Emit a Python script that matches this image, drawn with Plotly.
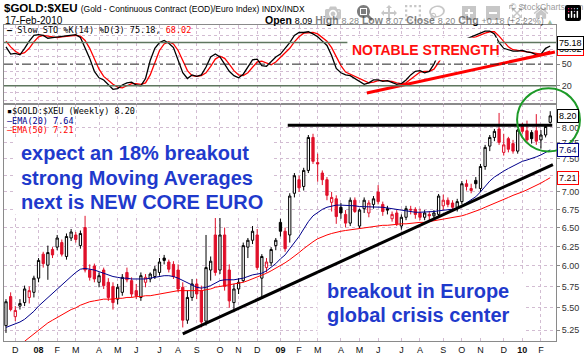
import math
import pandas as pd
import plotly.graph_objects as go

# ---------------- data (weekly, from 2007-11-19) ----------------
opens = [5.30,5.63,5.40,5.52,5.56,5.62,5.68,5.85,6.15,6.01,6.21,6.24,6.30,6.12,6.36,6.40,6.26,6.50,5.95,6.00,
         5.80,5.95,5.80,5.75,5.60,5.68,5.92,5.82,5.70,5.62,5.80,5.84,5.87,5.92,6.10,6.05,6.02,5.95,5.74,5.36,
         5.62,5.78,5.70,5.35,5.95,6.40,5.95,6.40,5.95,5.56,5.72,5.82,6.24,6.33,6.40,5.85,5.98,6.04,6.26,6.57,
         6.45,6.40,6.98,7.18,7.08,7.32,7.84,7.44,7.28,7.18,6.85,6.90,6.78,6.68,6.56,6.88,6.52,6.76,6.70,6.82,
         7.00,6.82,6.76,6.62,6.70,6.52,6.64,6.74,6.75,6.70,6.64,6.68,6.66,6.68,6.80,6.88,6.84,6.78,6.86,7.12,
         7.02,7.17,7.05,7.38,7.70,7.84,7.98,7.60,7.82,7.74,7.62,8.02,7.95,7.92,7.95,7.80,7.88,8.09]
highs = [5.60,5.68,5.52,5.60,5.76,5.75,5.88,6.10,6.18,6.26,6.24,6.40,6.34,6.42,6.48,6.44,6.46,6.66,6.02,6.03,
         5.92,5.98,5.85,5.80,5.78,5.90,5.98,5.86,5.78,5.92,5.90,5.92,6.00,6.10,6.14,6.08,6.06,6.02,5.80,5.70,
         5.84,5.84,5.76,6.40,6.12,6.63,6.63,6.50,6.02,5.78,5.85,6.30,6.36,6.52,6.48,6.15,6.10,6.24,6.36,6.62,
         6.50,6.98,7.28,7.24,7.36,7.88,7.90,7.58,7.32,7.22,7.00,6.95,6.84,6.74,6.92,6.92,6.76,6.92,6.88,6.94,
         7.10,6.86,6.80,6.72,6.74,6.68,6.80,6.80,6.78,6.76,6.74,6.72,6.74,6.97,6.96,6.92,6.88,6.90,7.16,7.18,
         7.12,7.22,7.42,7.72,7.88,7.98,8.25,7.90,7.85,7.80,7.98,8.08,8.12,7.96,8.23,7.96,8.05,8.28]
lows = [5.22,5.46,5.35,5.48,5.52,5.55,5.62,5.80,5.98,5.83,6.10,6.20,6.12,6.08,6.32,6.30,6.22,5.92,5.82,5.80,
        5.74,5.72,5.58,5.48,5.54,5.64,5.80,5.62,5.60,5.58,5.74,5.80,5.84,5.88,6.02,5.92,5.84,5.68,5.28,5.32,
        5.58,5.60,5.28,5.30,5.82,5.88,5.90,5.70,5.50,5.45,5.66,5.80,6.10,6.28,5.95,5.62,5.92,6.00,6.20,6.38,
        6.18,6.30,6.92,7.00,7.02,7.28,7.42,7.15,7.10,6.88,6.72,6.55,6.62,6.50,6.52,6.70,6.48,6.70,6.64,6.76,
        6.82,6.66,6.68,6.58,6.52,6.47,6.60,6.68,6.62,6.60,6.60,6.60,6.62,6.64,6.74,6.78,6.72,6.72,6.82,7.02,
        6.98,7.05,7.00,7.33,7.62,7.78,7.72,7.55,7.60,7.58,7.58,7.90,7.76,7.74,7.72,7.66,7.84,8.07]
closes = [5.57,5.48,5.47,5.55,5.72,5.70,5.85,6.07,6.03,6.17,6.14,6.36,6.15,6.38,6.44,6.34,6.42,5.95,5.86,5.84,
          5.88,5.76,5.62,5.56,5.74,5.86,5.83,5.66,5.64,5.88,5.86,5.90,5.96,6.05,6.07,5.96,5.87,5.72,5.36,5.62,
          5.78,5.66,5.34,5.98,6.06,5.92,6.40,5.75,5.58,5.72,5.80,6.26,6.33,6.45,5.98,6.12,6.05,6.21,6.33,6.45,
          6.22,6.94,7.24,7.06,7.32,7.84,7.46,7.42,7.18,6.95,6.92,6.65,6.70,6.56,6.88,6.72,6.74,6.88,6.84,6.90,
          6.86,6.72,6.74,6.68,6.55,6.64,6.76,6.75,6.68,6.64,6.70,6.66,6.70,6.94,6.88,6.82,6.78,6.86,7.12,7.08,
          7.05,7.12,7.38,7.68,7.84,7.94,7.76,7.72,7.65,7.62,7.96,7.94,7.80,7.82,7.78,7.88,8.02,8.20]
ema20 = [5.28,5.30,5.32,5.34,5.37,5.41,5.46,5.52,5.57,5.62,5.67,5.72,5.77,5.82,5.87,5.92,5.96,5.97,5.96,5.95,
         5.93,5.91,5.89,5.87,5.86,5.85,5.85,5.84,5.84,5.84,5.84,5.85,5.86,5.87,5.88,5.88,5.87,5.85,5.82,5.79,
         5.76,5.74,5.73,5.74,5.76,5.79,5.82,5.83,5.83,5.83,5.84,5.85,5.87,5.89,5.90,5.91,5.94,5.98,6.03,6.09,
         6.14,6.22,6.30,6.38,6.48,6.58,6.66,6.71,6.75,6.78,6.80,6.81,6.81,6.81,6.81,6.80,6.79,6.79,6.79,6.79,
         6.79,6.78,6.77,6.76,6.75,6.73,6.72,6.72,6.71,6.71,6.71,6.71,6.72,6.73,6.74,6.75,6.75,6.76,6.80,6.84,
         6.88,6.93,7.00,7.08,7.16,7.22,7.27,7.31,7.35,7.39,7.42,7.46,7.48,7.50,7.53,7.56,7.60,7.64]
ema50 = [4.95,4.99,5.03,5.08,5.13,5.17,5.21,5.25,5.29,5.33,5.36,5.39,5.42,5.45,5.48,5.50,5.53,5.55,5.57,5.58,
         5.59,5.60,5.60,5.60,5.61,5.61,5.62,5.62,5.63,5.63,5.64,5.64,5.65,5.66,5.67,5.68,5.69,5.70,5.70,5.70,
         5.70,5.70,5.70,5.71,5.72,5.74,5.75,5.76,5.77,5.78,5.79,5.80,5.82,5.84,5.86,5.88,5.91,5.94,5.97,6.00,
         6.04,6.08,6.12,6.17,6.22,6.27,6.31,6.35,6.38,6.40,6.42,6.44,6.45,6.46,6.47,6.48,6.49,6.50,6.51,6.52,
         6.52,6.53,6.53,6.54,6.54,6.55,6.55,6.56,6.56,6.57,6.57,6.58,6.59,6.60,6.61,6.62,6.63,6.64,6.66,6.68,
         6.70,6.72,6.75,6.78,6.81,6.84,6.87,6.90,6.92,6.95,6.97,7.00,7.03,7.06,7.09,7.13,7.17,7.21]
sto_k = [74,64,65,63,72,82,90,91,90,86,87,88,89,90,90,91,87,72,58,40,
         31,28,22,15,16,21,24,25,21,20,30,55,72,80,83,79,73,55,38,30,
         35,33,35,46,60,64,60,50,40,34,31,36,46,56,57,48,47,53,60,64,
         72,80,90,94,94,95,92,88,82,76,62,44,38,35,34,30,27,22,24,28,
         28,26,27,24,22,23,28,35,40,41,38,40,50,65,72,70,68,72,84,85,
         88,90,94,96,96,92,80,72,70,68,68,69,67,66,63,64,72,75.18]
sto_d = [82,74,68,64,66,72,81,88,90,89,88,87,88,89,90,90,89,83,72,57,
         43,33,27,22,18,17,20,23,23,22,24,35,52,69,78,81,78,69,55,41,
         34,33,34,38,47,57,61,58,50,41,35,34,38,46,53,54,51,49,53,59,
         65,72,81,88,93,94,94,92,87,82,73,61,48,39,36,33,30,26,24,25,
         27,27,27,26,24,23,24,29,34,39,40,40,43,52,62,69,70,70,75,80,
         86,88,91,93,95,95,89,81,74,70,69,68,68,67,65,64,66,68.02]
month_labels = ["D","<b>08</b>","F","M","A","M","J","J","A","S","O","N","D","<b>09</b>",
                "F","M","A","M","J","J","A","S","O","N","D","<b>10</b>","F"]
price_ticks = [5.25,5.50,5.75,6.00,6.25,6.50,6.75,7.00,7.25,7.50,7.75,8.00]
# drawn annotation lines
trend_dates = ["2008-08-11", "2010-02-19"]
trend_vals = [5.21, 7.41]
resist_dates = ["2009-01-16", "2010-02-18"]
resist_vals = [8.04, 8.04]
sto_trend_dates = ["2009-05-15", "2010-02-22"]
sto_trend_vals = [10, 67]

n = len(closes)
weeks = pd.date_range("2007-11-19", periods=n, freq="7D")
month_ticks, seen = [], set()
for d in weeks:
    if (d.year, d.month) not in seen:
        seen.add((d.year, d.month))
        month_ticks.append(d)
month_ticks = month_ticks[1:]

# ---------------- geometry helpers (pixels -> paper) ----------------
L, R, T, B = 3, 556, 25, 345
def px(x):
    return (x - L) / (R - L)
def py(y):
    return (B - y) / (B - T)

RED = "#e0102a"
GRID = "#d2bcd2"
FONT = "Liberation Sans, Arial, sans-serif"
MONO = "DejaVu Sans Mono, monospace"
BLUE_TXT = "#1f3acc"

up_idx = [i for i in range(n) if i == 0 or closes[i] >= closes[i - 1]]
dn_idx = [i for i in range(n) if not (i == 0 or closes[i] >= closes[i - 1])]

def sub(arr, idx):
    return [arr[i] for i in idx]

fig = go.Figure()
for idx, col in ((up_idx, "#000000"), (dn_idx, RED)):
    fig.add_trace(go.Candlestick(
        x=[weeks[i] for i in idx], open=sub(opens, idx), high=sub(highs, idx),
        low=sub(lows, idx), close=sub(closes, idx),
        increasing=dict(line=dict(color=col, width=1), fillcolor="#ffffff"),
        decreasing=dict(line=dict(color=col, width=1), fillcolor=col),
        whiskerwidth=0, showlegend=False, hoverinfo="skip", xaxis="x", yaxis="y"))

fig.add_trace(go.Scatter(x=weeks, y=ema20, mode="lines", line=dict(color="#00008b", width=1),
                         showlegend=False, hoverinfo="skip", xaxis="x", yaxis="y"))
fig.add_trace(go.Scatter(x=weeks, y=ema50, mode="lines", line=dict(color="#ff0000", width=1),
                         showlegend=False, hoverinfo="skip", xaxis="x", yaxis="y"))
fig.add_trace(go.Scatter(x=trend_dates, y=trend_vals, mode="lines", line=dict(color="#000000", width=3),
                         showlegend=False, hoverinfo="skip", xaxis="x", yaxis="y"))
fig.add_trace(go.Scatter(x=resist_dates, y=resist_vals, mode="lines", line=dict(color="#000000", width=3),
                         showlegend=False, hoverinfo="skip", xaxis="x", yaxis="y"))

fig.add_trace(go.Scatter(x=weeks, y=sto_d, mode="lines", line=dict(color="#ff0000", width=1.3),
                         showlegend=False, hoverinfo="skip", xaxis="x2", yaxis="y2"))
fig.add_trace(go.Scatter(x=weeks, y=sto_k, mode="lines", line=dict(color="#000000", width=1.3),
                         showlegend=False, hoverinfo="skip", xaxis="x2", yaxis="y2"))
fig.add_trace(go.Scatter(x=sto_trend_dates, y=sto_trend_vals, mode="lines", line=dict(color="#ff0000", width=3),
                         showlegend=False, hoverinfo="skip", xaxis="x2", yaxis="y2"))

xr = ["2007-11-16", "2010-02-23 16:00"]
common_x = dict(range=xr, type="date", tickvals=month_ticks, showgrid=True, gridcolor=GRID,
                griddash="dot", gridwidth=1, showline=True, mirror=True, linecolor="#8a8a8a",
                zeroline=False, rangeslider=dict(visible=False), fixedrange=True)

fig.update_layout(
    width=587, height=358, margin=dict(l=L, r=587 - R, t=T, b=358 - B),
    paper_bgcolor="#ffffff", plot_bgcolor="#ffffff", showlegend=False,
    xaxis=dict(**common_x, domain=[0, 1], anchor="y", ticktext=month_labels,
               tickfont=dict(family=FONT, size=9, color="#111"), ticks="", ticklen=0),
    xaxis2=dict(**common_x, domain=[0, 1], anchor="y2", matches="x", showticklabels=False),
    yaxis=dict(domain=[0, py(105)], type="log", range=[math.log10(5.133), math.log10(8.405)],
               side="right", tickvals=price_ticks, ticktext=["%.2f" % v for v in price_ticks],
               tickfont=dict(family=FONT, size=9, color="#333"), ticks="outside", ticklen=3,
               tickcolor="#8a8a8a", showgrid=True, gridcolor=GRID, griddash="dot",
               showline=True, mirror=True, linecolor="#8a8a8a", zeroline=False),
    yaxis2=dict(domain=[py(105), 1], range=[-5.4, 104.4], side="right", tickvals=[20, 50],
                ticktext=["20", "50"], tickfont=dict(family=FONT, size=9, color="#333"),
                ticks="outside", ticklen=3, tickcolor="#8a8a8a", showgrid=False,
                minor=dict(tickvals=[0, 10, 30, 40, 60, 70, 90, 100], showgrid=True,
                           gridcolor=GRID, griddash="dot", ticks=""),
                showline=True, mirror=True, linecolor="#8a8a8a", zeroline=False),
)

shapes = []
for lvl, dash, col, w in ((80, "solid", "#5f775f", 1.5), (20, "solid", "#5f775f", 1.5), (50, "dashdot", "#222", 1)):
    shapes.append(dict(type="line", xref="x2 domain", yref="y2", x0=0, x1=1, y0=lvl, y1=lvl,
                       line=dict(color=col, width=w, dash=dash), layer="above"))
# white boxes behind the text notes
shapes.append(dict(type="rect", xref="paper", yref="paper", x0=px(347), x1=px(497), y0=py(61), y1=py(38),
                   fillcolor="#ffffff", line=dict(width=0), layer="above"))
shapes.append(dict(type="rect", xref="paper", yref="paper", x0=px(14), x1=px(272), y0=py(217), y1=py(141),
                   fillcolor="#ffffff", line=dict(width=0), layer="above"))
shapes.append(dict(type="rect", xref="paper", yref="paper", x0=px(317), x1=px(523), y0=py(340), y1=py(277),
                   fillcolor="#ffffff", line=dict(width=0), layer="above"))
# green circle
shapes.append(dict(type="circle", xref="paper", yref="paper", x0=px(517), x1=px(580), y0=py(153), y1=py(89),
                   line=dict(color="#1d9a28", width=2), layer="above"))
fig.update_layout(shapes=shapes)

ann = []
def note(x, y, text, size, color="#000", family=FONT, xanchor="left", **kw):
    ann.append(dict(xref="paper", yref="paper", x=px(x), y=py(y), text=text, showarrow=False,
                    xanchor=xanchor, yanchor="middle", font=dict(family=family, size=size, color=color), **kw))

note(1, 8, "<b>$GOLD:$XEU</b> <span style='font-size:8.5px'>(Gold - Continuous Contract (EOD)/Euro Index) INDX/INDX</span>", 11.5)
note(585, 7, "© StockCharts.com", 8.5, color="#333", xanchor="right")
note(2, 20, "17-Feb-2010", 10)
note(556, 20, "<b>Open</b> <span style='font-size:9px'>8.09</span> <b>High</b> <span style='font-size:9px'>8.28</span> "
              "<b>Low</b> <span style='font-size:9px'>8.07</span> <b>Close</b> <span style='font-size:9px'>8.20</span> "
              "<b>Chg</b> <span style='font-size:9px'>+0.18 (+2.22%)</span> <span style='font-size:7px;fill:#3a7a3a'>▲</span>",
     10.5, xanchor="right")
note(4, 30, "<b>—</b> Slow STO %K(14) %D(3) 75.18, <span style='fill:#ff0000'>68.02</span>", 8.5, family=MONO)
note(350, 50, "<b>NOTABLE STRENGTH</b>", 14, color="#ff1010")
note(4, 112, "▪$GOLD:$XEU (Weekly) 8.20", 8.5, family=MONO)
note(4, 122, "—EMA(20) 7.64", 8.5, color="#00008b", family=MONO)
note(4, 131, "—EMA(50) 7.21", 8.5, color="#ff0000", family=MONO)
for yy, t in ((155, "expect an 18% breakout"), (180, "strong Moving Averages"), (204, "next is NEW CORE EURO")):
    note(18, yy, "<b>%s</b>" % t, 20, color=BLUE_TXT)
for yy, t in ((294, "breakout in Europe"), (319, "global crisis center")):
    note(325, yy, "<b>%s</b>" % t, 20, color=BLUE_TXT)

# value tags on the right axis
for val, bc, tc in ((7.21, "#ff0000", "#300000"), (7.64, "#00008b", "#00005a"), (8.20, "#000000", "#000000")):
    ann.append(dict(xref="paper", yref="y", x=px(557), y=math.log10(val), text="%.2f" % val, showarrow=False,
                    xanchor="left", yanchor="middle", font=dict(family=FONT, size=9, color=tc),
                    bordercolor=bc, borderwidth=1, borderpad=1, bgcolor="#ffffff"))
for val, shown, bc in ((71, "68.02", "#ff0000"), (79, "75.18", "#000000")):
    ann.append(dict(xref="paper", yref="y2", x=px(557), y=val, text=shown, showarrow=False,
                    xanchor="left", yanchor="middle", font=dict(family=FONT, size=9, color="#000"),
                    bordercolor=bc, borderwidth=1, borderpad=1, bgcolor="#ffffff"))
fig.update_layout(annotations=ann)

fig.write_html("out.html", post_script="document.body.style.margin='0px';")
